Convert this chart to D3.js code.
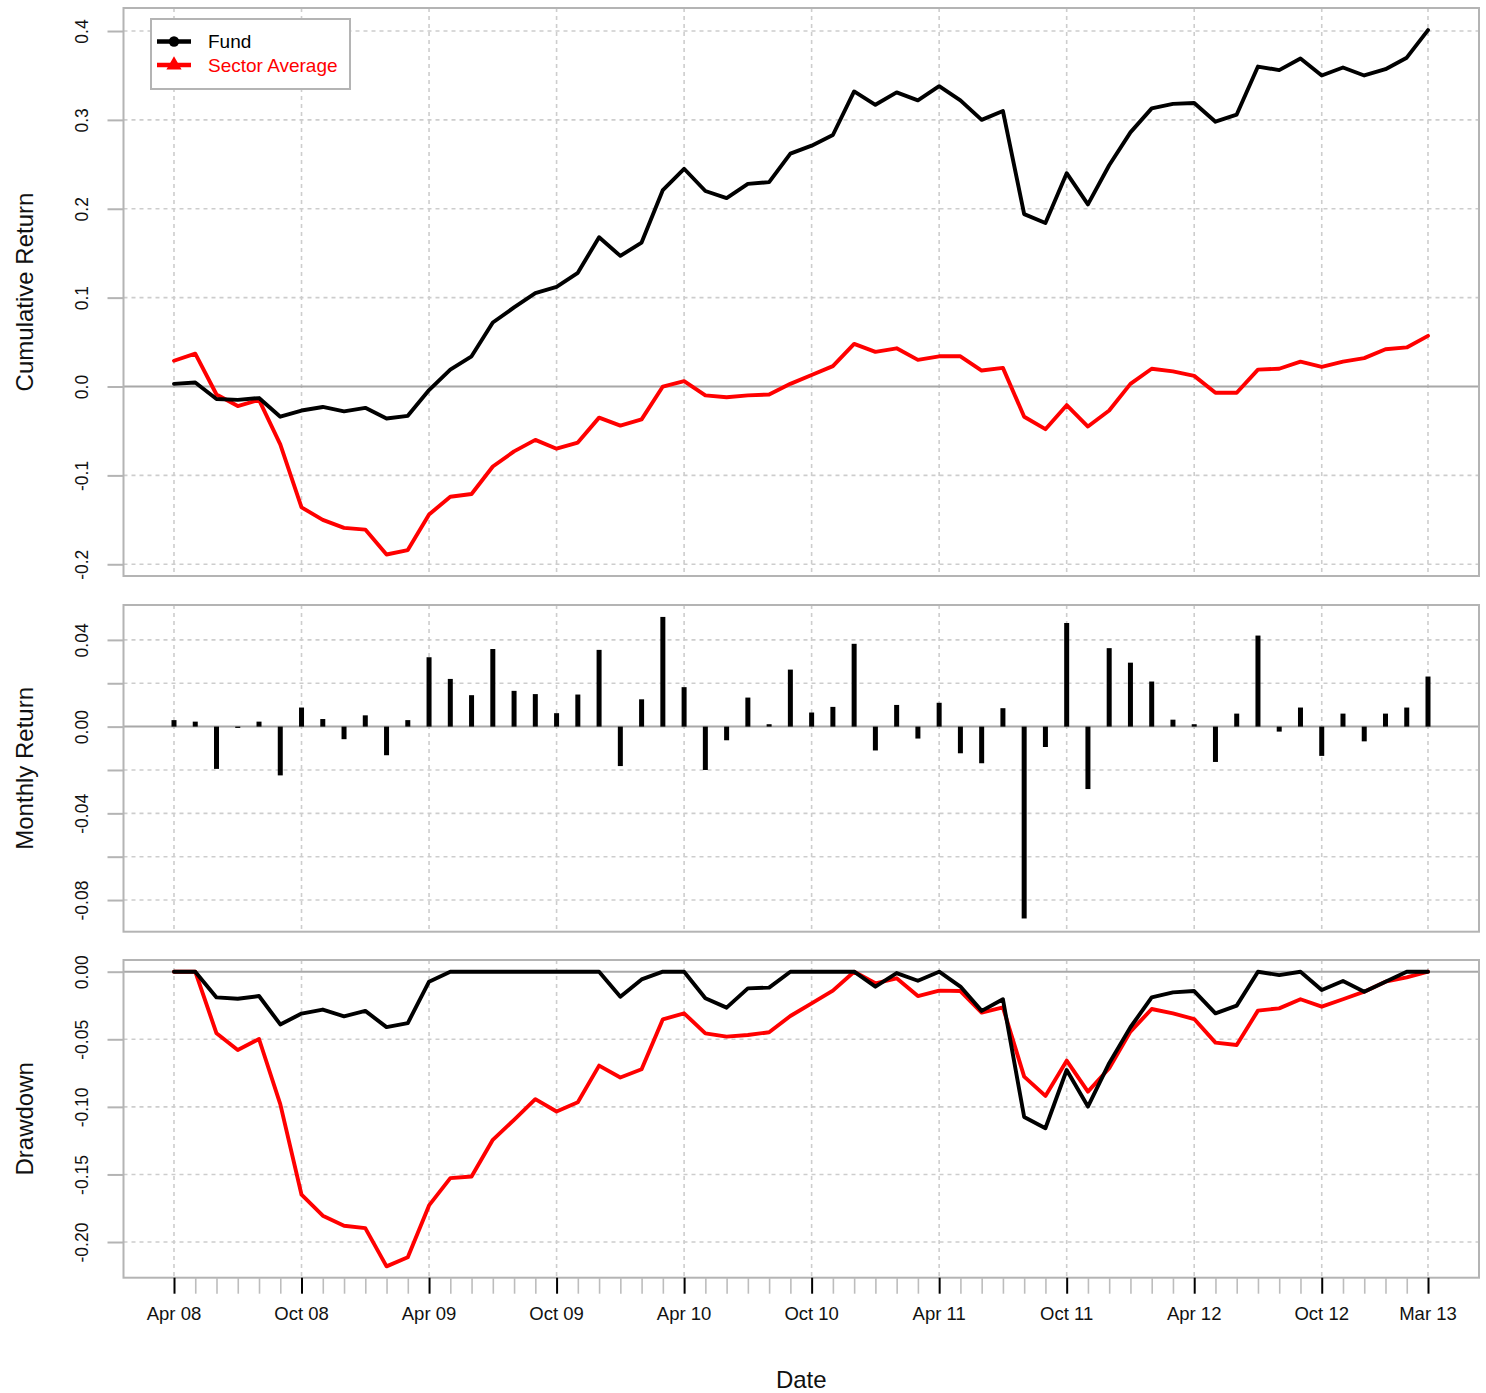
<!DOCTYPE html>
<html>
<head>
<meta charset="utf-8">
<script src="https://cdn.jsdelivr.net/npm/d3@7"></script>
<style>
  body { margin: 0; background: #fff; }
  svg { display: block; }
  text { font-family: "Liberation Sans", Arial, Helvetica, sans-serif; }
</style>
</head>
<body>
<svg id="chart" width="1486" height="1393"></svg>
<script>
// ---- data -------------------------------------------------------------
const months = [
  "Apr 08","May 08","Jun 08","Jul 08","Aug 08","Sep 08","Oct 08","Nov 08","Dec 08","Jan 09","Feb 09","Mar 09",
  "Apr 09","May 09","Jun 09","Jul 09","Aug 09","Sep 09","Oct 09","Nov 09","Dec 09","Jan 10","Feb 10","Mar 10",
  "Apr 10","May 10","Jun 10","Jul 10","Aug 10","Sep 10","Oct 10","Nov 10","Dec 10","Jan 11","Feb 11","Mar 11",
  "Apr 11","May 11","Jun 11","Jul 11","Aug 11","Sep 11","Oct 11","Nov 11","Dec 11","Jan 12","Feb 12","Mar 12",
  "Apr 12","May 12","Jun 12","Jul 12","Aug 12","Sep 12","Oct 12","Nov 12","Dec 12","Jan 13","Feb 13","Mar 13"
];

const seriesNames = ["Fund", "Sector Average"];

const fundCumulative = [
  0.003, 0.0045, -0.014, -0.015, -0.013, -0.034, -0.027, -0.023, -0.028, -0.024, -0.036, -0.033,
  -0.004, 0.019, 0.034, 0.072, 0.089, 0.105, 0.112, 0.128, 0.168, 0.147, 0.162, 0.221,
  0.245, 0.220, 0.212, 0.228, 0.230, 0.262, 0.271, 0.283, 0.332, 0.317, 0.331, 0.322,
  0.338, 0.322, 0.300, 0.310, 0.194, 0.184, 0.240, 0.205, 0.249, 0.286, 0.313, 0.318,
  0.319, 0.298, 0.306, 0.360, 0.356, 0.369, 0.350, 0.359, 0.350, 0.357, 0.370, 0.401
];

const sectorCumulative = [
  0.029, 0.037, -0.009, -0.022, -0.015, -0.065, -0.136, -0.150, -0.159, -0.161, -0.189, -0.184,
  -0.144, -0.124, -0.121, -0.090, -0.073, -0.060, -0.070, -0.063, -0.035, -0.044, -0.037, 0.000,
  0.006, -0.010, -0.012, -0.010, -0.009, 0.003, 0.013, 0.023, 0.048, 0.039, 0.043, 0.030,
  0.034, 0.034, 0.018, 0.021, -0.034, -0.048, -0.021, -0.045, -0.027, 0.003, 0.020, 0.017,
  0.012, -0.007, -0.007, 0.019, 0.020, 0.028, 0.022, 0.028, 0.032, 0.042, 0.044, 0.057
];

const fundMonthly = [
  0.003, 0.0023, -0.0195, -0.0006, 0.0023, -0.0225, 0.0088, 0.0035, -0.0058, 0.0052, -0.0132, 0.003,
  0.032, 0.022, 0.0145, 0.0358, 0.0165, 0.015, 0.0062, 0.0148, 0.0354, -0.0182, 0.0126, 0.0506,
  0.0182, -0.020, -0.0063, 0.0134, 0.0011, 0.0263, 0.0065, 0.0091, 0.0382, -0.011, 0.010, -0.0055,
  0.011, -0.0123, -0.0169, 0.0085, -0.0885, -0.0094, 0.0478, -0.0288, 0.0362, 0.0295, 0.0208, 0.0032,
  0.0011, -0.0163, 0.006, 0.042, -0.0023, 0.0088, -0.0135, 0.006, -0.0068, 0.006, 0.0088, 0.0231
];

const fundDrawdown = [
  0, 0, -0.019, -0.020, -0.018, -0.039, -0.031, -0.028, -0.033, -0.029, -0.041, -0.038,
  -0.0074, 0, 0, 0, 0, 0, 0, 0, 0, -0.0185, -0.0057, 0,
  0, -0.0197, -0.0266, -0.0123, -0.0118, 0, 0, 0, 0, -0.0111, -0.001, -0.0067,
  0, -0.011, -0.029, -0.0204, -0.1075, -0.1158, -0.0727, -0.0998, -0.0677, -0.0411, -0.019, -0.0153,
  -0.0143, -0.0308, -0.0251, 0, -0.0025, 0, -0.0135, -0.0069, -0.0148, -0.0074, 0, 0
];

const sectorDrawdown = [
  0, 0, -0.0456, -0.0579, -0.0498, -0.098, -0.165, -0.1805, -0.188, -0.1897, -0.218, -0.2113,
  -0.1729, -0.1527, -0.1515, -0.1244, -0.1096, -0.0943, -0.1034, -0.0966, -0.0695, -0.0783, -0.0722, -0.0352,
  -0.0308, -0.0456, -0.048, -0.0468, -0.0448, -0.0328, -0.0234, -0.014, 0, -0.0086, -0.0049, -0.018,
  -0.014, -0.0143, -0.0303, -0.0264, -0.0776, -0.0919, -0.0658, -0.0887, -0.0714, -0.0443, -0.0276, -0.0308,
  -0.035, -0.0525, -0.0542, -0.0288, -0.0271, -0.0204, -0.0259, -0.0204, -0.0148, -0.0074, -0.0042, 0
];

const cumulativeTicks = [0.4, 0.3, 0.2, 0.1, 0.0, -0.1, -0.2];
const cumulativeTickLabels = ["0.4", "0.3", "0.2", "0.1", "0.0", "-0.1", "-0.2"];
const monthlyTicks = [0.04, 0.02, 0.0, -0.02, -0.04, -0.06, -0.08];
const monthlyTickLabels = ["0.04", "", "0.00", "", "-0.04", "", "-0.08"];
const drawdownTicks = [0.0, -0.05, -0.10, -0.15, -0.20];
const drawdownTickLabels = ["0.00", "-0.05", "-0.10", "-0.15", "-0.20"];
const dateTickLabels = ["Apr 08","Oct 08","Apr 09","Oct 09","Apr 10","Oct 10","Apr 11","Oct 11","Apr 12","Oct 12","Mar 13"];

// ---- layout -----------------------------------------------------------
const W = 1486, H = 1393;
const frameLeft = 123.5, frameRight = 1479;
const firstX = 174, lastX = 1428;
const colors = { fund: "#000000", sector: "#ff0000", frame: "#b4b4b4", zero: "#a8a8a8", grid: "#cdcdcd" };
const FONT_TICK = 17.5, FONT_XTICK = 18.5, FONT_TITLE = 24, FONT_LEGEND = 19;
const LINE_W = 3.9;

const panels = {
  cumulative: { top: 8,   bottom: 576,   domain: [-0.2132, 0.4259], ticks: cumulativeTicks, labels: cumulativeTickLabels, title: "Cumulative Return" },
  monthly:    { top: 605, bottom: 931.7, domain: [-0.0946, 0.0561], ticks: monthlyTicks,    labels: monthlyTickLabels,    title: "Monthly Return" },
  drawdown:   { top: 960, bottom: 1277.7, domain: [-0.2264, 0.00866], ticks: drawdownTicks,  labels: drawdownTickLabels,   title: "Drawdown" }
};

const svg = d3.select("#chart");
svg.append("rect").attr("width", W).attr("height", H).attr("fill", "#fff");

const x = d3.scalePoint().domain(months).range([firstX, lastX]);
const dateTickIdx = dateTickLabels.map(l => months.indexOf(l));

Object.values(panels).forEach(p => {
  p.y = d3.scaleLinear().domain(p.domain).range([p.bottom, p.top]);
});

function drawPanelBase(p) {
  const g = svg.append("g");
  // horizontal grid
  p.ticks.forEach(t => {
    if (t === 0) return;
    g.append("line")
      .attr("x1", frameLeft).attr("x2", frameRight)
      .attr("y1", p.y(t)).attr("y2", p.y(t))
      .attr("stroke", colors.grid).attr("stroke-width", 1.6)
      .attr("stroke-dasharray", "4,4");
  });
  // vertical grid at labelled dates
  dateTickIdx.forEach(i => {
    g.append("line")
      .attr("x1", x(months[i])).attr("x2", x(months[i]))
      .attr("y1", p.top).attr("y2", p.bottom)
      .attr("stroke", colors.grid).attr("stroke-width", 1.6)
      .attr("stroke-dasharray", "4,4");
  });
  // zero line
  g.append("line")
    .attr("x1", frameLeft).attr("x2", frameRight)
    .attr("y1", p.y(0)).attr("y2", p.y(0))
    .attr("stroke", colors.zero).attr("stroke-width", 2);

  // y axis with rotated labels
  const axis = d3.axisLeft(p.y)
    .tickValues(p.ticks)
    .tickSize(16)
    .tickFormat((d, i) => p.labels[i]);
  const ag = svg.append("g").attr("transform", `translate(${frameLeft},0)`).call(axis);
  ag.select(".domain").remove();
  ag.selectAll(".tick line").attr("stroke", colors.frame).attr("stroke-width", 2);
  ag.selectAll(".tick text")
    .attr("x", null).attr("dy", null)
    .attr("text-anchor", "middle")
    .attr("transform", `translate(${88 - frameLeft},0) rotate(-90)`)
    .attr("fill", "#111")
    .style("font-size", FONT_TICK + "px")
    .style("font-family", '"Liberation Sans", Arial, Helvetica, sans-serif');

  // axis title
  svg.append("text")
    .attr("transform", `translate(33,${(p.top + p.bottom) / 2}) rotate(-90)`)
    .attr("text-anchor", "middle")
    .attr("fill", "#111")
    .style("font-size", FONT_TITLE + "px")
    .text(p.title);
}

function drawFrame(p) {
  svg.append("rect")
    .attr("x", frameLeft).attr("y", p.top)
    .attr("width", frameRight - frameLeft).attr("height", p.bottom - p.top)
    .attr("fill", "none").attr("stroke", colors.frame).attr("stroke-width", 2);
}

function lineFor(p, values) {
  return d3.line()
    .x((d, i) => x(months[i]))
    .y(d => p.y(d))(values);
}

// ---- cumulative return panel -----------------------------------------
const pc = panels.cumulative;
drawPanelBase(pc);
[[sectorCumulative, colors.sector], [fundCumulative, colors.fund]].forEach(([vals, c]) => {
  svg.append("path").attr("d", lineFor(pc, vals))
    .attr("fill", "none").attr("stroke", c).attr("stroke-width", LINE_W)
    .attr("stroke-linejoin", "round").attr("stroke-linecap", "round");
});
drawFrame(pc);

// legend
const lg = svg.append("g");
lg.append("rect").attr("x", 151).attr("y", 19).attr("width", 199).attr("height", 70)
  .attr("fill", "#fff").attr("stroke", colors.frame).attr("stroke-width", 2);
const legendItems = [
  { name: seriesNames[0], color: colors.fund, shape: d3.symbolCircle, yy: 41.5 },
  { name: seriesNames[1], color: colors.sector, shape: d3.symbolTriangle, yy: 65 }
];
legendItems.forEach(it => {
  lg.append("line").attr("x1", 157).attr("x2", 191).attr("y1", it.yy).attr("y2", it.yy)
    .attr("stroke", it.color).attr("stroke-width", 4.5);
  lg.append("path").attr("d", d3.symbol().type(it.shape).size(it.shape === d3.symbolCircle ? 85 : 100)())
    .attr("transform", `translate(174,${it.yy})`).attr("fill", it.color);
  lg.append("text").attr("x", 208).attr("y", it.yy).attr("dy", "0.35em")
    .attr("fill", it.color).style("font-size", FONT_LEGEND + "px").text(it.name);
});

// ---- monthly return panel --------------------------------------------
const pm = panels.monthly;
drawPanelBase(pm);
svg.append("g").selectAll("rect").data(fundMonthly).join("rect")
  .attr("x", (d, i) => x(months[i]) - 2.5)
  .attr("width", 5)
  .attr("y", d => pm.y(Math.max(0, d)))
  .attr("height", d => Math.max(1, Math.abs(pm.y(d) - pm.y(0))))
  .attr("fill", colors.fund);
drawFrame(pm);

// ---- drawdown panel ---------------------------------------------------
const pd = panels.drawdown;
drawPanelBase(pd);
[[sectorDrawdown, colors.sector], [fundDrawdown, colors.fund]].forEach(([vals, c]) => {
  svg.append("path").attr("d", lineFor(pd, vals))
    .attr("fill", "none").attr("stroke", c).attr("stroke-width", LINE_W)
    .attr("stroke-linejoin", "round").attr("stroke-linecap", "round");
});
drawFrame(pd);

// ---- date axis --------------------------------------------------------
const xg = svg.append("g").attr("transform", `translate(0,${pd.bottom})`);
xg.call(d3.axisBottom(x).tickValues(months).tickSize(16).tickFormat(""));
xg.select(".domain").remove();
xg.selectAll(".tick line").attr("stroke", "#bdbdbd").attr("stroke-width", 1.6);
xg.selectAll(".tick").filter(d => dateTickLabels.includes(d)).select("line")
  .attr("stroke", "#000").attr("stroke-width", 2);

svg.append("g").selectAll("text").data(dateTickLabels).join("text")
  .attr("x", d => x(d))
  .attr("y", 1320)
  .attr("text-anchor", "middle")
  .attr("fill", "#111")
  .style("font-size", FONT_XTICK + "px")
  .text(d => d);

svg.append("text")
  .attr("x", (frameLeft + frameRight) / 2).attr("y", 1388)
  .attr("text-anchor", "middle")
  .attr("fill", "#111")
  .style("font-size", FONT_TITLE + "px")
  .text("Date");
</script>
</body>
</html>
